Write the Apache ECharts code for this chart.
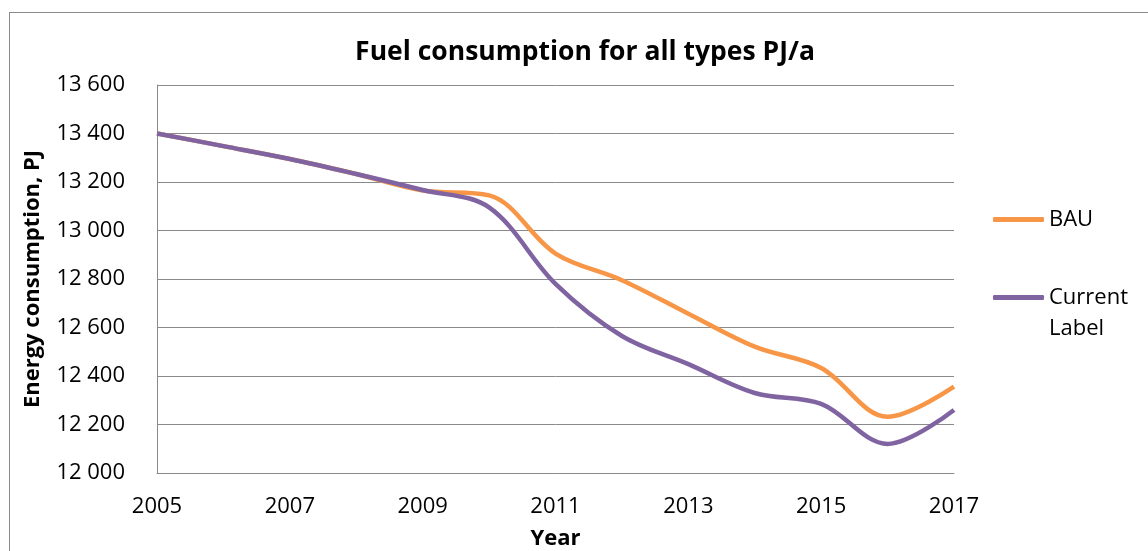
<!DOCTYPE html>
<html>
<head>
<meta charset="utf-8">
<script src="https://cdn.jsdelivr.net/npm/echarts@6/dist/echarts.min.js"></script>
<style>
  html, body { margin: 0; padding: 0; background: #fff; }
  #frame { position: absolute; left: 9px; top: 12px; width: 1300px; height: 700px; border: 1px solid #8a8a8a; }
  #main { position: absolute; left: 0; top: 0; width: 1148px; height: 551px; }
</style>
</head>
<body>
<div id="frame"></div>
<div id="main"></div>
<script>
// data
const years = ['2005', '2006', '2007', '2008', '2009', '2010', '2011', '2012', '2013', '2014', '2015', '2016', '2017'];
const bau = [13400, 13348, 13295, 13233, 13165, 13145, 12905, 12795, 12657, 12521, 12433, 12232, 12356];
const currentLabel = [13400, 13348, 13295, 13233, 13167, 13095, 12780, 12565, 12449, 12330, 12285, 12120, 12260];
const yTicks = { min: 12000, max: 13600, step: 200 };

const fontFam = '"Open Sans", "Noto Sans", sans-serif';

let myChart = echarts.init(document.getElementById('main'));
let option = {
    animation: false,
    title: {
        text: 'Fuel consumption for all types PJ/a',
        left: 585,
        textAlign: 'center',
        top: 39,
        padding: 0,
        textStyle: { fontFamily: fontFam, fontWeight: 'bold', fontSize: 26.5, color: '#000' }
    },
    legend: [
        {
            data: ['BAU'],
            left: 993,
            top: 204,
            padding: 0,
            icon: 'roundRect',
            itemWidth: 51,
            itemHeight: 5,
            itemGap: 6,
            textStyle: { fontFamily: fontFam, fontSize: 22, color: '#000', lineHeight: 31 }
        },
        {
            data: ['Current Label'],
            left: 993,
            top: 251,
            padding: 0,
            icon: 'roundRect',
            itemWidth: 51,
            itemHeight: 5,
            itemGap: 6,
            // empty first line keeps the icon level with "Current"
            formatter: (name) => '\n' + name.replace(' ', '\n'),
            textStyle: { fontFamily: fontFam, fontSize: 22, color: '#000', lineHeight: 31 }
        }
    ],
    grid: { left: 157, right: 194, top: 85, bottom: 78, outerBoundsMode: 'none' },
    xAxis: {
        type: 'category',
        data: years,
        boundaryGap: false,
        name: 'Year',
        nameLocation: 'middle',
        nameGap: 55,
        nameTextStyle: { fontFamily: fontFam, fontWeight: 'bold', fontSize: 22, color: '#000' },
        axisLine: { lineStyle: { color: '#8a8a8a', width: 1 } },
        axisTick: { show: false },
        axisLabel: { interval: 1, margin: 23, fontFamily: fontFam, fontSize: 22, color: '#000' },
        splitLine: { show: false }
    },
    yAxis: {
        type: 'value',
        min: yTicks.min,
        max: yTicks.max,
        interval: yTicks.step,
        name: 'Energy consumption, PJ',
        nameLocation: 'middle',
        nameGap: 113,
        nameRotate: 90,
        nameTextStyle: { fontFamily: fontFam, fontWeight: 'bold', fontSize: 22, color: '#000' },
        axisLine: { show: true, lineStyle: { color: '#8a8a8a', width: 1 } },
        axisTick: { show: false },
        axisLabel: {
            margin: 32,
            fontFamily: fontFam,
            fontSize: 22,
            color: '#000',
            formatter: (v) => String(v).replace(/\B(?=(\d{3})+(?!\d))/g, ' ')
        },
        splitLine: { lineStyle: { color: '#8a8a8a', width: 1 } }
    },
    series: [
        {
            name: 'BAU',
            type: 'line',
            data: bau,
            smooth: 0.35,
            symbol: 'none',
            color: '#F79646',
            lineStyle: { width: 4.5, color: '#F79646' }
        },
        {
            name: 'Current Label',
            type: 'line',
            data: currentLabel,
            smooth: 0.35,
            symbol: 'none',
            color: '#8064A2',
            lineStyle: { width: 4.5, color: '#8064A2' }
        }
    ]
};
option && myChart.setOption(option);
</script>
</body>
</html>
